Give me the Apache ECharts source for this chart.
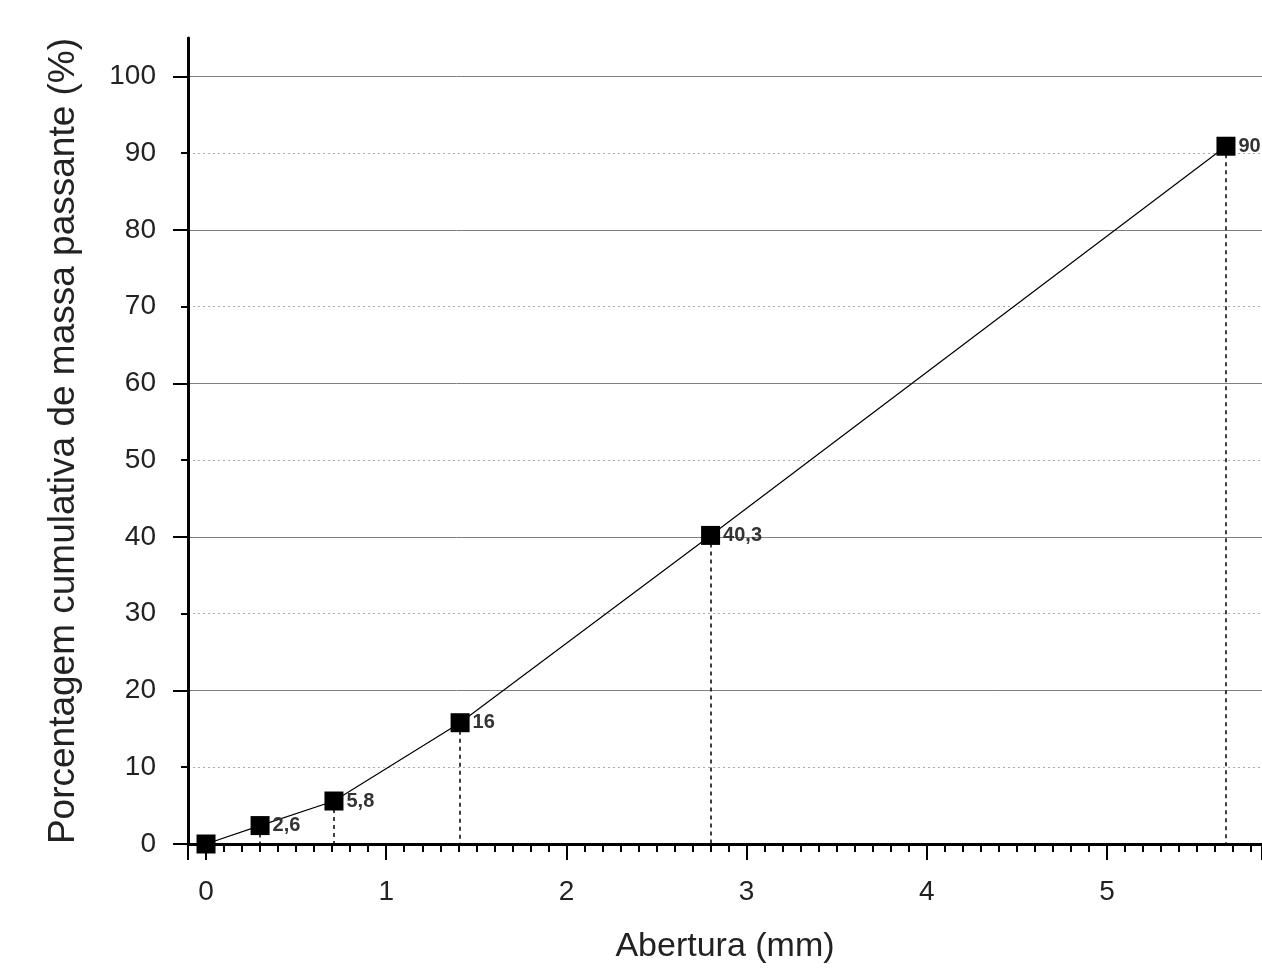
<!DOCTYPE html>
<html>
<head>
<meta charset="utf-8">
<script src="https://cdn.jsdelivr.net/npm/echarts@6/dist/echarts.min.js"></script>
<style>
  html, body { margin: 0; padding: 0; background: #fff; }
  #chart { width: 1262px; height: 969px; }
</style>
</head>
<body>
<div id="chart"></div>
<script>
// abertura da peneira (mm) e % passante acumulada
var aberturas = [0, 0.3, 0.71, 1.41, 2.8, 5.66]
var passante = [0, 2.4, 5.6, 15.8, 40.2, 90.9]
var rotulos = ['', '2,6', '5,8', '16', '40,3', '90']
var ticksY = [0, 10, 20, 30, 40, 50, 60, 70, 80, 90, 100]
var ticksYMaior = [0, 20, 40, 60, 80, 100]

var fonte = 'Liberation Sans, Arial, sans-serif'

var pontos = aberturas.map(function (x, i) { return [x, passante[i]] })
var quedas = aberturas.map(function (x, i) {
  return [{ coord: [x, passante[i]] }, { coord: [x, 0] }]
})

var chart = echarts.init(document.getElementById('chart'))
chart.setOption({
  animation: false,
  grid: { left: 188, right: 0, top: 38, bottom: 123 },
  xAxis: {
    type: 'value',
    min: -0.1,
    max: 5.86,
    splitNumber: 6,
    name: 'Abertura (mm)',
    nameLocation: 'middle',
    nameGap: 86,
    nameTextStyle: { fontSize: 34, color: '#222', fontFamily: fonte },
    axisLine: { show: true, onZero: false, lineStyle: { color: '#000', width: 3 } },
    axisTick: { show: true, length: 16, lineStyle: { color: '#000', width: 2 } },
    minorTick: { show: true, splitNumber: 10, length: 8, lineStyle: { color: '#000', width: 2 } },
    axisLabel: { fontSize: 28, color: '#222', margin: 34, fontFamily: fonte, showMinLabel: false, showMaxLabel: false },
    splitLine: { show: false }
  },
  yAxis: [
    {
      type: 'value',
      min: 0,
      max: 105,
      interval: 10,
      name: 'Porcentagem cumulativa de massa passante (%)',
      nameLocation: 'middle',
      nameGap: 106,
      nameTextStyle: { fontSize: 37, color: '#222', fontFamily: fonte },
      axisLine: { show: true, onZero: false, lineStyle: { color: '#000', width: 3 } },
      axisTick: { show: true, length: 7, customValues: ticksY, lineStyle: { color: '#000', width: 2 } },
      axisLabel: { fontSize: 28, color: '#222', margin: 32, fontFamily: fonte, customValues: ticksY },
      splitLine: { show: true, lineStyle: { color: '#aaa', width: 1, type: [2, 3] } }
    },
    {
      type: 'value',
      min: 0,
      max: 105,
      interval: 20,
      position: 'left',
      axisLine: { show: false, onZero: false },
      axisTick: { show: true, length: 15, customValues: ticksYMaior, lineStyle: { color: '#000', width: 2 } },
      axisLabel: { show: false },
      splitLine: { show: true, lineStyle: { color: '#808080', width: 1 } }
    }
  ],
  series: [
    {
      type: 'line',
      data: pontos,
      symbol: 'rect',
      symbolSize: 19,
      itemStyle: { color: '#000' },
      lineStyle: { color: '#000', width: 1.2 },
      label: {
        show: true,
        position: 'right',
        distance: 3,
        fontSize: 20,
        fontWeight: 'bold',
        color: '#333',
        fontFamily: fonte,
        formatter: function (p) { return rotulos[p.dataIndex] }
      },
      markLine: {
        silent: true,
        symbol: ['none', 'none'],
        label: { show: false },
        lineStyle: { color: '#000', width: 1.5, type: [4, 4] },
        data: quedas
      }
    }
  ]
})
</script>
</body>
</html>
